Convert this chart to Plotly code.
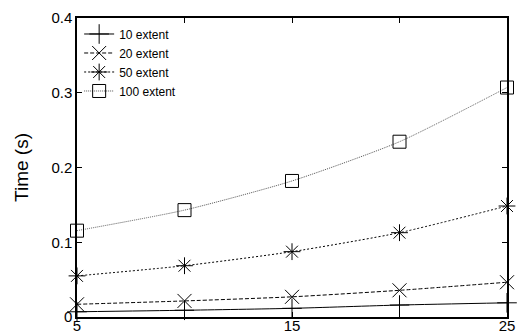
import plotly.graph_objects as go

x_vals = [5, 10, 15, 20, 25]
series_names = ["10 extent", "20 extent", "50 extent", "100 extent"]
ext10 = [0.007, 0.009, 0.0116, 0.0160, 0.0190]
ext20 = [0.017, 0.0215, 0.027, 0.0357, 0.0465]
ext50 = [0.055, 0.0686, 0.0874, 0.1128, 0.1485]
ext100 = [0.1155, 0.143, 0.182, 0.2345, 0.307]
y_ticks = [0, 0.1, 0.2, 0.3, 0.4]
y_tick_labels = ["0", "0.1", "0.2", "0.3", "0.4"]
x_ticks = [5, 10, 15, 20, 25]
x_tick_labels = ["5", "", "15", "", "25"]

styles = [
    dict(symbol="cross-thin-open", dash="solid", lc="black", size=14),
    dict(symbol="x-thin-open", dash="4px,2px", lc="black", size=14),
    dict(symbol="asterisk-open", dash="2px,2px", lc="black", size=14),
    dict(symbol="square-open", dash="1px,1px", lc="#555555", size=13),
]

fig = go.Figure()
for name, ys, st in zip(series_names, [ext10, ext20, ext50, ext100], styles):
    fig.add_trace(go.Scatter(
        x=x_vals, y=ys, name=name, mode="lines+markers",
        line=dict(color=st["lc"], width=1, dash=st["dash"], shape="spline", smoothing=0.6),
        marker=dict(symbol=st["symbol"], size=st["size"], color="black",
                    line=dict(color="black", width=1)),
        cliponaxis=False,
    ))

axis_common = dict(showline=True, linecolor="black", linewidth=1.5, mirror="ticks",
                   ticks="inside", ticklen=5, tickcolor="black", showgrid=False,
                   zeroline=False, tickfont=dict(size=15, color="black"))

fig.update_layout(
    width=520, height=335,
    margin=dict(l=77, r=13, t=18, b=18),
    paper_bgcolor="white", plot_bgcolor="white",
    font=dict(family="Liberation Sans, Arial, sans-serif", color="black"),
    xaxis=dict(range=[5, 25], tickvals=x_ticks, ticktext=x_tick_labels,
               ticklabelstandoff=-6, **axis_common),
    yaxis=dict(range=[0, 0.4], tickvals=y_ticks, ticktext=y_tick_labels,
               title=dict(text="Time (s)", font=dict(size=19), standoff=18), **axis_common),
    legend=dict(x=0.005, y=0.995, xanchor="left", yanchor="top",
                bgcolor="rgba(0,0,0,0)", font=dict(size=12), tracegroupgap=0),
    showlegend=True,
)
fig.update_xaxes(automargin=False)
fig.update_yaxes(automargin=False)

fig.write_html("out.html")
